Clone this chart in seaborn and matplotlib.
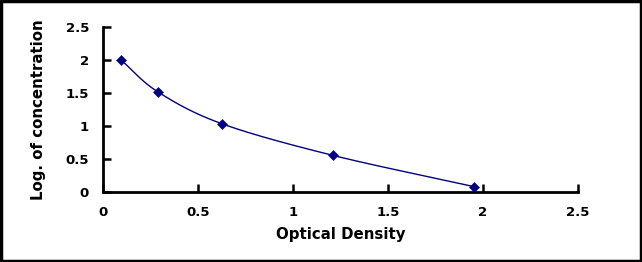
import numpy as np
import pandas as pd
import matplotlib
matplotlib.use('Agg')
import matplotlib.pyplot as plt
import seaborn as sns

# standard curve values
optical_density = [0.095, 0.29, 0.625, 1.21, 1.955]
log_conc = [2.0, 1.515, 1.035, 0.555, 0.08]
ticks = [0, 0.5, 1, 1.5, 2, 2.5]
tick_labels = ['0', '0.5', '1', '1.5', '2', '2.5']

df = pd.DataFrame({'od': optical_density, 'logc': log_conc})


def smooth(x, y, n=40):
    # catmull-rom through the points, like excel's smoothed line
    x = np.asarray(x, float)
    y = np.asarray(y, float)
    px = np.concatenate([[2 * x[0] - x[1]], x, [2 * x[-1] - x[-2]]])
    py = np.concatenate([[2 * y[0] - y[1]], y, [2 * y[-1] - y[-2]]])
    xs, ys = [], []
    t = np.linspace(0, 1, n)
    for i in range(1, len(px) - 2):
        for p, out in ((px, xs), (py, ys)):
            p0, p1, p2, p3 = p[i - 1], p[i], p[i + 1], p[i + 2]
            out.append(0.5 * (2 * p1 + (-p0 + p2) * t
                              + (2 * p0 - 5 * p1 + 4 * p2 - p3) * t ** 2
                              + (-p0 + 3 * p1 - 3 * p2 + p3) * t ** 3))
    return np.concatenate(xs), np.concatenate(ys)


sns.set_style('white')
plt.rcParams['font.family'] = ['DejaVu Sans']
plt.rcParams['font.weight'] = 'bold'

fig = plt.figure(figsize=(6.42, 2.62), dpi=100)
ax = fig.add_axes([0.1604, 0.2672, 0.9003 - 0.1604, 0.8969 - 0.2672])

sx, sy = smooth(df['od'], df['logc'])
curve = pd.DataFrame({'od': sx, 'logc': sy})
sns.lineplot(data=curve, x='od', y='logc', ax=ax, color='#000080', lw=1, sort=False)
sns.scatterplot(data=df, x='od', y='logc', ax=ax, marker='D', s=26, color='#000080',
                edgecolor='#000080', zorder=3)

ax.set_xlim(0, 2.5)
ax.set_ylim(0, 2.5)
ax.set_xticks(ticks)
ax.set_xticklabels(tick_labels, fontweight='bold')
ax.set_yticks(ticks)
ax.set_yticklabels(tick_labels, fontweight='bold')
ax.tick_params(bottom=True, left=True, direction='in', length=6, width=1.8,
               colors='black', labelcolor='black', labelsize=9.5, pad=10)
for s in ['top', 'right']:
    ax.spines[s].set_visible(False)
for s in ['left', 'bottom']:
    ax.spines[s].set_linewidth(2)
    ax.spines[s].set_color('black')
ax.set_xlabel('Optical Density', fontsize=10.8, fontweight='bold', labelpad=6, color='black')
ax.set_ylabel('Log. of concentration', fontsize=10.8, fontweight='bold', labelpad=14,
              color='black')

fig.patches.append(plt.Rectangle((0.002, 0.004), 0.996, 0.992, transform=fig.transFigure,
                                 fill=False, edgecolor='black', lw=2.5))

fig.savefig('out.png', dpi=100)
